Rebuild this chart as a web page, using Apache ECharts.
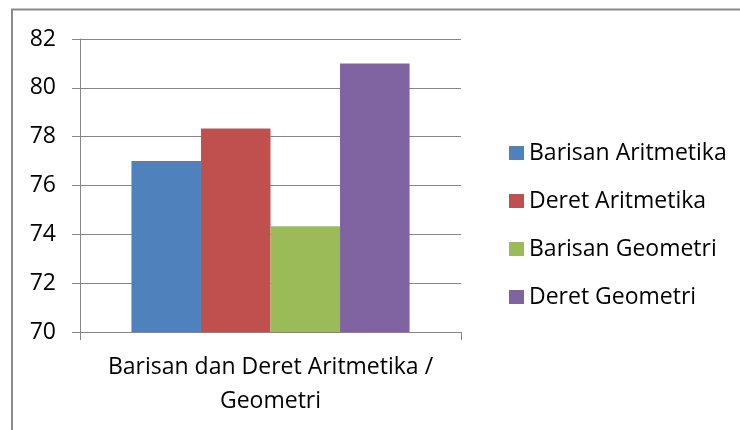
<!DOCTYPE html>
<html>
<head>
<meta charset="utf-8">
<script src="https://cdn.jsdelivr.net/npm/echarts@6/dist/echarts.min.js"></script>
<style>
html,body{margin:0;padding:0;background:#fff;}
#chart{width:740px;height:430px;}
</style>
</head>
<body>
<div id="chart"></div>
<script>
const categories = ["Barisan dan Deret Aritmetika /\nGeometri"];
const seriesNames = ["Barisan Aritmetika", "Deret Aritmetika", "Barisan Geometri", "Deret Geometri"];
const barisanAritmetika = [77];
const deretAritmetika = [78.33];
const barisanGeometri = [74.33];
const deretGeometri = [81];
const yTicks = { min: 70, max: 82, interval: 2 };

const colors = ["#4F81BD", "#C0504D", "#9BBB59", "#8064A2"];
const values = [barisanAritmetika, deretAritmetika, barisanGeometri, deretGeometri];
const FONT = "Open Sans";

const chart = echarts.init(document.getElementById('chart'), null, {renderer: 'canvas'});
chart.setOption({
  animation: false,
  backgroundColor: '#fff',
  color: colors,
  textStyle: { fontFamily: FONT },
  graphic: [{
    type: 'rect',
    shape: { x: 12, y: 9.5, width: 760, height: 460 },
    style: { fill: 'none', stroke: '#8a8a8a', lineWidth: 2 },
    silent: true
  }],
  grid: { left: 80, right: 279, top: 39, bottom: 98, containLabel: false },
  legend: {
    orient: 'vertical',
    left: 504,
    top: 134,
    itemWidth: 15,
    itemHeight: 14,
    itemGap: 20,
    itemTextGap: 7,
    icon: 'rect',
    data: seriesNames,
    textStyle: { fontFamily: FONT, fontSize: 23, color: '#000', lineHeight: 28 }
  },
  xAxis: {
    type: 'category',
    data: categories,
    axisLine: { show: true, lineStyle: { color: '#868686', width: 1 } },
    axisTick: { show: true, length: 8, lineStyle: { color: '#868686' } },
    axisLabel: { fontFamily: FONT, fontSize: 23, color: '#000', margin: 18, lineHeight: 34, align: 'center' },
    splitLine: { show: false }
  },
  yAxis: {
    type: 'value',
    min: yTicks.min,
    max: yTicks.max,
    interval: yTicks.interval,
    axisLine: { show: true, lineStyle: { color: '#868686', width: 1 } },
    axisTick: { show: true, length: 8, lineStyle: { color: '#868686' } },
    axisLabel: { fontFamily: FONT, fontSize: 23, color: '#000', margin: 24 },
    splitLine: { show: true, lineStyle: { color: '#868686', width: 1 } }
  },
  series: seriesNames.map((name, i) => ({
    name: name,
    type: 'bar',
    data: values[i],
    barGap: '0%',
    barCategoryGap: '27%',
    itemStyle: { color: colors[i] }
  }))
});
</script>
</body>
</html>
